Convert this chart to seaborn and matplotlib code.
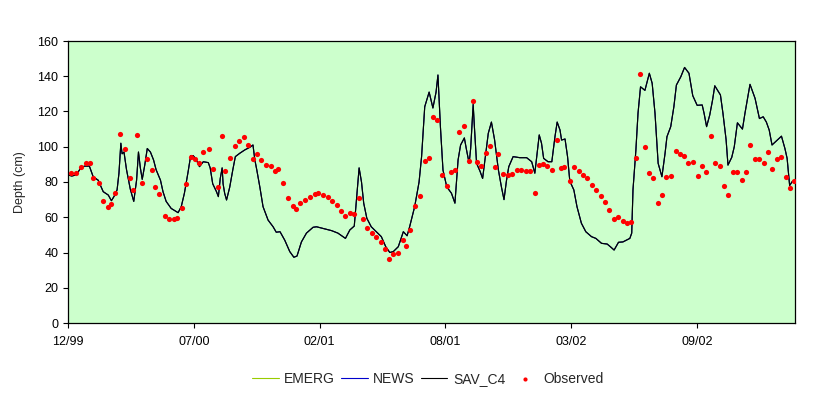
import seaborn as sns
import matplotlib.pyplot as plt

# x values are days after 31 Dec 1999
model_day = [0, 6, 13, 20, 26, 34, 40, 48, 56, 64, 69, 73, 78, 81, 84, 86, 89, 93, 99, 104.5,
             109, 112, 115, 118, 122, 126, 131, 136, 140, 147, 151, 156, 164, 175, 180, 185, 191, 195, 199, 204,
             209, 215, 223, 226, 230, 236, 239, 242, 245, 246.5, 249, 252, 257, 262, 266, 273, 281, 289, 294, 297,
             300, 305, 310, 318, 326, 331, 337, 344.5, 352.5, 359, 364, 371, 379, 389.5, 395, 405, 419, 429, 441, 448,
             455, 458.5, 462.7, 466.5, 470, 475, 482, 490, 498, 505, 511.5, 517, 525, 533, 539, 543, 551, 558, 562, 567,
             574, 580, 585, 588, 592, 596, 602, 609.5, 615, 620, 624, 630, 633, 637.6, 640, 642, 644, 646, 649.4, 655,
             659, 664, 668, 673, 678, 684, 689, 693, 697, 700.6, 707.5, 718, 729, 737, 742, 745.6, 749, 752.6, 756, 763,
             769, 774, 777.5, 782, 784.5, 790, 794, 797.6, 804, 809, 816, 823, 832, 839, 848, 857, 862, 868,
             875, 882, 893, 896, 898, 902.6, 906, 910, 917, 924, 928.5, 933, 938, 944, 949, 952, 958, 963, 967, 974,
             980, 987, 993, 1000, 1008, 1011, 1015, 1020, 1024.5, 1028, 1032.5, 1037, 1041, 1046, 1049, 1055, 1059, 1064, 1072, 1076,
             1084, 1092, 1099, 1105, 1110, 1114.5, 1119, 1125, 1134, 1139.5, 1143, 1147, 1151, 1156]
model_depth = [84, 83.4, 84, 87.8, 89, 89, 83, 81, 74.5, 72.6, 69.4, 71.7, 75.5, 85, 102, 96, 97, 87, 76, 69,
               81, 97, 88, 81.5, 89.6, 99, 97, 92.5, 87, 81, 74.5, 69, 65, 62.6, 66, 73.6, 86, 95, 95, 92.5,
               88.7, 91.5, 91, 88, 79, 74.5, 71.7, 82, 88, 79, 73.6, 69.8, 77, 87, 94.4, 96.3, 98.2, 99.7, 101, 92.5,
               87, 77, 66, 58.4, 54.6, 51.5, 51.8, 47, 40.5, 37.3, 38, 46, 51, 54.3, 54.6, 53.7, 52.4, 51, 48, 52.8,
               55, 70, 88, 80, 68, 59.4, 54.6, 51.8, 49, 43.3, 40, 40.5, 43.3, 51.8, 49.5, 54.6, 66, 80, 94.4, 122.7,
               131, 122, 131, 140.7, 111, 86.8, 77.3, 73.6, 68, 92.5, 101, 105, 99, 90.6, 99, 112, 124, 111, 90.6, 86,
               82, 96, 107.6, 114, 104, 87, 77, 70, 81, 88.7, 94.4, 93.8, 93.8, 91.5, 85, 96.3, 106.7, 102, 93.4, 91.5,
               91.5, 105.7, 114, 109.5, 103.8, 104.4, 94.4, 80.5, 75.5, 66, 56.6, 51.8, 49, 48, 45.2, 44.8, 43.3, 41.4,
               45.8, 46, 48, 51, 75.5, 98, 119, 134, 132, 141.7, 136, 119, 90.6, 83, 96.3, 105.7, 111.4, 122.7, 135, 139.7,
               145, 141.7, 129, 123.5, 123.7, 119, 111.4, 118, 126.5, 134.6, 132, 129.4, 119, 104, 89.6, 94, 100, 113.6, 110, 119,
               135.4, 127.5, 116, 117, 114, 109.5, 101, 103, 106, 99, 93.4, 78, 80.2, 81]

obs_day = [5, 13, 20, 28, 34.5, 40, 49, 55, 63, 69, 75, 83, 90, 98, 104, 110, 118, 125, 133, 139,
           145, 154, 160, 168, 174, 181, 188, 195, 202.5, 208, 215, 224, 230, 238, 244, 250, 258, 265, 272.5, 279,
           286, 294, 300, 307.5, 314, 322, 329, 334.5, 342.5, 349, 357, 363, 369.5, 377, 384, 392, 398, 405, 413, 419,
           427, 434, 440, 448, 454, 462, 468.5, 475, 483, 489, 497, 503.5, 510, 517, 524, 532, 538, 544, 552, 559,
           567, 573, 580, 587, 594, 602, 608, 615, 622, 629, 637, 643, 650, 657, 664, 671.5, 678, 684, 692, 699,
           706.5, 713, 720, 728, 734, 742, 748, 755, 762, 769, 776.5, 783, 789, 797.6, 804, 811.5, 818, 825, 833, 839,
           847, 853, 860, 868, 874, 882, 888, 895, 902.6, 909, 917, 923, 930, 937, 944, 951, 958, 966, 972.5, 979,
           986, 993, 1000.6, 1007.5, 1014, 1022, 1028, 1036, 1042, 1049, 1057, 1063, 1071, 1077, 1084, 1092, 1098, 1106, 1112, 1119,
           1127, 1133, 1141, 1147, 1154]
obs_depth = [85.3, 85.3, 88.7, 91, 91, 82, 79.6, 69.4, 66, 67.7, 73.9, 107.4, 98.7, 82, 75.6, 106.8, 79.6, 93.2, 87, 77.2,
             73.4, 60.7, 59, 59, 59.7, 65.2, 79, 94.4, 93.2, 91, 97.2, 98.9, 87.5, 77.2, 106.3, 86.2, 93.8, 100.6, 103.4, 105.5,
             101.2, 93.2, 96.1, 92.7, 89.6, 89.1, 86.2, 87.4, 79.4, 70.9, 66.6, 64.7, 68.1, 69.8, 71.7, 73.4, 73.9, 72.6, 71.7, 69.4,
             67, 63.7, 60.9, 62.6, 61.8, 71.1, 59, 54.1, 51.1, 48.8, 46, 42.2, 36.3, 39.1, 39.9, 47.1, 43.7, 52.8, 66.6, 72.1,
             92.1, 93.6, 116.9, 115.2, 84, 77.7, 85.7, 86.8, 108.4, 111.8, 92.1, 126, 91.5, 89.1, 96.5, 100.4, 88.5, 95.9, 84.5, 84,
             84.5, 87, 87, 86.2, 86.2, 73.8, 89.6, 90.2, 89.1, 86.8, 103.8, 87.9, 88.5, 80.6, 88.5, 86.2, 84.1, 82.4, 78.5, 75.6,
             72.2, 68.8, 64.3, 59.2, 60.3, 58, 56.9, 57.5, 93.8, 141.4, 100, 85.3, 82.4, 68.3, 72.8, 83, 83.6, 97.8, 96.1, 94.9,
             91, 91.5, 83.6, 89.2, 85.8, 106.3, 91, 89.2, 77.9, 72.8, 85.8, 85.8, 81.3, 85.8, 101.2, 93.2, 93.2, 91, 97.2, 87.5,
             93.2, 94.4, 83, 76.8, 80.7]

tick_days = [0, 200, 400, 600, 800, 1000]
tick_labels = ["12/99", "07/00", "02/01", "08/01", "03/02", "09/02"]

sns.set_style("ticks")
plt.rcParams['font.family'] = ['Liberation Sans', 'DejaVu Sans']

fig = plt.figure(figsize=(8.31, 3.98), dpi=100)
ax = fig.add_axes([68 / 831, 1 - 323 / 398, (795.3 - 68) / 831, (323 - 41) / 398])
ax.set_facecolor("#CCFFCC")

sns.lineplot(x=model_day, y=model_depth, ax=ax, color="#99CC00", lw=0.8, label="EMERG")
sns.lineplot(x=model_day, y=model_depth, ax=ax, color="#0000CC", lw=0.8, label="NEWS")
sns.lineplot(x=model_day, y=model_depth, ax=ax, color="black", lw=0.8, label="SAV_C4")
sns.scatterplot(x=obs_day, y=obs_depth, ax=ax, color="red", s=14, linewidth=0,
                label="Observed", zorder=5)

ax.set_xlim(0, 1156)
ax.set_ylim(0, 160)
ax.set_yticks(range(0, 161, 20))
ax.set_xticks(tick_days)
ax.set_xticklabels(tick_labels)
ax.tick_params(axis="both", direction="out", length=3.5, width=0.8, labelsize=9, colors="black")
ax.tick_params(axis="x", pad=6)
for sp in ax.spines.values():
    sp.set_visible(True)
    sp.set_color("black")
    sp.set_linewidth(0.9)

ax.set_xlabel("")
ax.set_ylabel("Depth (cm)", fontsize=9, labelpad=8)

handles, labels = ax.get_legend_handles_labels()
ax.get_legend().remove()
fig.legend(handles, labels, loc="center", bbox_to_anchor=(0.515, 0.048), ncol=4,
           frameon=False, fontsize=10, handlelength=1.9, handletextpad=0.4,
           columnspacing=0.45, markerscale=0.8)

fig.savefig("out.png", dpi=100)
